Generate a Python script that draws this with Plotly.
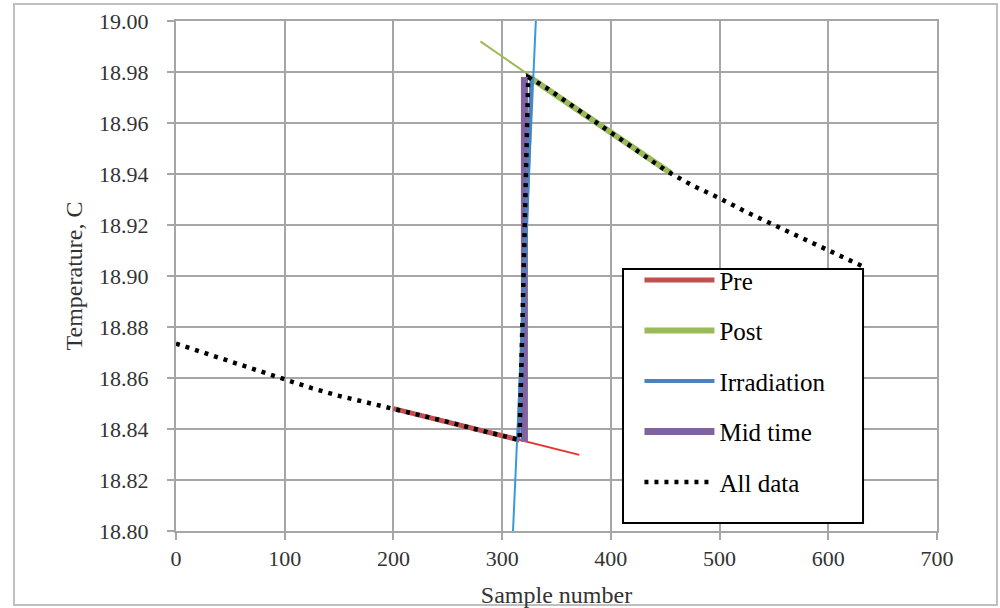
import plotly.graph_objects as go

# ---- data ----
all_x = [0, 25, 50, 75, 100, 125, 150, 175, 200, 225, 250, 275, 300, 316,
         318, 320, 322, 324, 340, 360, 380, 400, 425, 450, 475, 500, 525,
         550, 575, 600, 633]
all_y = [18.8735, 18.8700, 18.8665, 18.8628, 18.8592, 18.8560, 18.8530,
         18.8505, 18.8480, 18.8455, 18.8428, 18.8400, 18.8375, 18.8357,
         18.8700, 18.9100, 18.9500, 18.9780, 18.9740, 18.9680, 18.9620,
         18.9565, 18.9490, 18.9415, 18.9355, 18.9305, 18.9250, 18.9200,
         18.9150, 18.9100, 18.9035]

pre_x = [200, 316]
pre_y = [18.8480, 18.8357]
pre_fit_x = [200, 371]
pre_fit_y = [18.8480, 18.8299]

post_x = [325, 455]
post_y = [18.9780, 18.9404]
post_fit_x = [280, 455]
post_fit_y = [18.9920, 18.9404]

irr_x = [315, 327]
irr_y = [18.8360, 18.9780]
irr_fit_x = [310, 331]
irr_fit_y = [18.8000, 19.0000]

mid_x = [320.5, 320.5]
mid_y = [18.8350, 18.9780]

x_ticks = [0, 100, 200, 300, 400, 500, 600, 700]
y_ticks = [18.80, 18.82, 18.84, 18.86, 18.88, 18.90, 18.92, 18.94, 18.96, 18.98, 19.00]

FONT = "Liberation Serif"
GRID = "#A6A6A6"
TXT = "#333333"

fig = go.Figure()

# trendlines (no legend entries)
fig.add_trace(go.Scatter(x=pre_fit_x, y=pre_fit_y, mode="lines",
                         line=dict(color="#E8322B", width=1.8),
                         showlegend=False, hoverinfo="skip"))
fig.add_trace(go.Scatter(x=post_fit_x, y=post_fit_y, mode="lines",
                         line=dict(color="#9BBB59", width=2),
                         showlegend=False, hoverinfo="skip"))

# data series
fig.add_trace(go.Scatter(x=pre_x, y=pre_y, mode="lines", name="Pre",
                         legendgroup="a", legendrank=1,
                         line=dict(color="#C0504D", width=5)))
fig.add_trace(go.Scatter(x=post_x, y=post_y, mode="lines", name="Post",
                         legendgroup="b", legendrank=2,
                         line=dict(color="#9BBB59", width=6)))
fig.add_trace(go.Scatter(x=mid_x, y=mid_y, mode="lines", name="Mid time",
                         legendgroup="d", legendrank=4,
                         line=dict(color="#8064A2", width=7)))
fig.add_trace(go.Scatter(x=irr_fit_x, y=irr_fit_y, mode="lines",
                         line=dict(color="#3A9AD9", width=2),
                         showlegend=False, hoverinfo="skip"))
fig.add_trace(go.Scatter(x=irr_x, y=irr_y, mode="lines", name="Irradiation",
                         legendgroup="c", legendrank=3,
                         line=dict(color="#4F81BD", width=4)))
fig.add_trace(go.Scatter(x=all_x, y=all_y, mode="lines", name="All data",
                         legendgroup="e", legendrank=5,
                         line=dict(color="#000000", width=4.5, dash="4px,6px")))

# outer chart frame and legend box
fig.add_shape(type="rect", xref="paper", yref="paper",
              x0=-0.2129, x1=1.0788, y0=-0.1451, y1=1.0333,
              line=dict(color="#BFBFBF", width=2), fillcolor="rgba(0,0,0,0)",
              layer="below")
fig.add_shape(type="rect", xref="paper", yref="paper",
              x0=0.5874, x1=0.9028, y0=0.0157, y1=0.5137,
              line=dict(color="#000000", width=2), fillcolor="white",
              layer="above")

axis_common = dict(
    showgrid=True, gridcolor=GRID, gridwidth=2,
    showline=True, linecolor=GRID, linewidth=2, mirror=True,
    ticks="outside", ticklen=7, tickwidth=2, tickcolor=GRID,
    zeroline=False, automargin=False,
    tickfont=dict(family=FONT, size=22, color=TXT),
)

fig.update_xaxes(range=[0, 700], tickvals=x_ticks,
                 ticktext=[str(v) for v in x_ticks],
                 ticklabelstandoff=0,
                 title=dict(text="Sample number",
                            font=dict(family=FONT, size=24, color=TXT),
                            standoff=16),
                 **axis_common)
fig.update_yaxes(range=[18.80, 19.00], tickvals=y_ticks,
                 ticktext=[f"{v:.2f}" for v in y_ticks],
                 ticklabelstandoff=14,
                 title=dict(text="Temperature, C",
                            font=dict(family=FONT, size=24, color=TXT),
                            standoff=10),
                 **axis_common)

fig.update_layout(
    width=1000, height=608,
    margin=dict(l=176, r=63, t=21, b=77),
    paper_bgcolor="white", plot_bgcolor="white",
    legend=dict(x=0.609, y=0.537, xanchor="left", yanchor="top",
                bgcolor="rgba(0,0,0,0)", borderwidth=0,
                font=dict(family=FONT, size=25, color="#000000"),
                tracegroupgap=15, itemwidth=70),
)

fig.write_html("out.html", config={"displayModeBar": False},
               post_script="document.body.style.margin='0';document.body.style.overflow='hidden';")
